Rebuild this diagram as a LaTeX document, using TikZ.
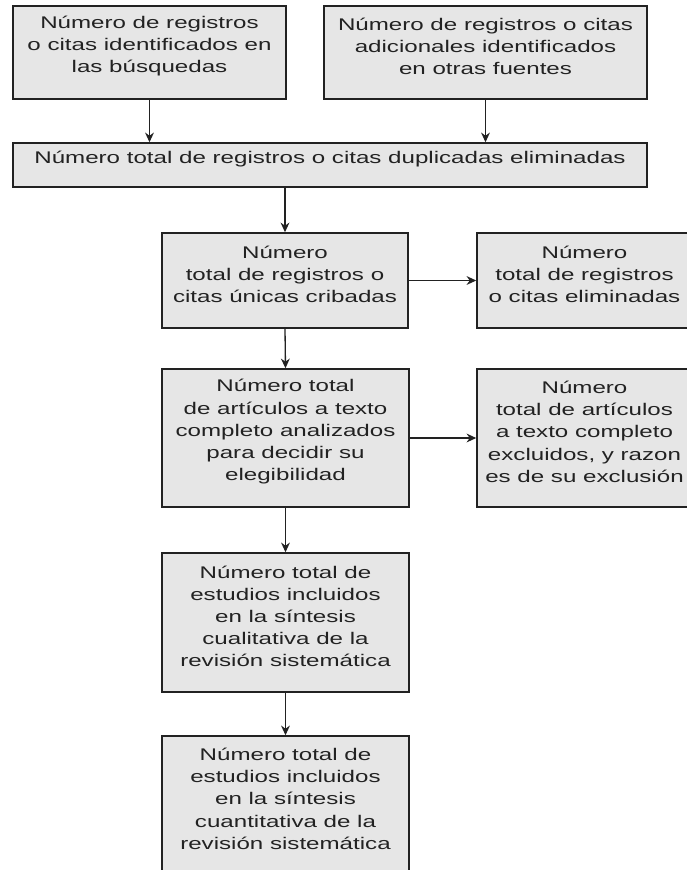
\documentclass[tikz,border=0pt]{standalone}
\usepackage{fontspec}
\setmainfont{Liberation Sans}[FakeStretch=1.43]
\usetikzlibrary{fit,arrows.meta}
\definecolor{boxfill}{HTML}{E6E6E6}
\definecolor{ink}{HTML}{222222}
\begin{document}
\begin{tikzpicture}[x=0.02cm,y=-0.02cm,
  box/.style={draw=ink, fill=boxfill, line width=0.85pt, inner sep=0pt, align=center,
    font=\fontsize{9.6}{12.6}\selectfont, text=ink},
  arr/.style={-{Stealth[length=5.5pt,width=5pt]}, line width=0.75pt, draw=ink}]
\useasboundingbox (0,0) rectangle (687,870);
\node[box, fit={(13,6) (286,99)}] (b1) {Número de registros\\o citas identificados en\\las búsquedas};
\node[box, fit={(324,6) (647,99)}] (b2) {Número de registros o citas\\adicionales identificados\\en otras fuentes};
\node[box, fit={(13,143) (647,187)}] (b3) {Número total de registros o citas duplicadas eliminadas};
\node[box, fit={(162,233) (408,328)}] (b4) {Número\\total de registros o\\citas únicas cribadas};
\node[box, fit={(477,233) (692,328)}] (b5) {Número\\total de registros\\o citas eliminadas};
\node[box, fit={(162,369) (409,507)}] (b6) {Número total\\de artículos a texto\\completo analizados\\para decidir su\\elegibilidad};
\node[box, fit={(477,369) (692,507)}] (b7) {Número\\total de artículos\\a texto completo\\excluidos, y razon\\es de su exclusión};
\node[box, fit={(162,553) (409,692)}] (b8) {Número total de\\estudios incluidos\\en la síntesis\\cualitativa de la\\revisión sistemática};
\node[box, fit={(162,736) (409,874)}] (b9) {Número total de\\estudios incluidos\\en la síntesis\\cuantitativa de la\\revisión sistemática};
\draw[arr] (b1.south) -- (b1.south |- b3.north);
\draw[arr] (b2.south) -- (b2.south |- b3.north);
\draw[arr] (b4.north |- b3.south) -- (b4.north);
\draw[arr] (b4.east) -- (b5.west);
\draw[arr] (b4.south) -- (b6.north);
\draw[arr] (b6.east) -- (b7.west);
\draw[arr] (b6.south) -- (b8.north);
\draw[arr] (b8.south) -- (b9.north);
\end{tikzpicture}
\end{document}
